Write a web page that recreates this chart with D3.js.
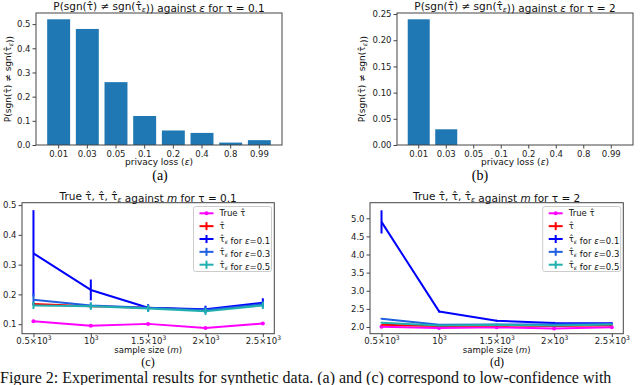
<!DOCTYPE html>
<html lang="en">
<head>
<meta charset="UTF-8">
<title>Figure 2</title>
<script src="https://cdn.jsdelivr.net/npm/d3@7/dist/d3.min.js"></script>
<style>
  body { margin: 0; background: #fff; }
  svg { display: block; font-family: 'DejaVu Sans', sans-serif; }
  .serif { font-family: 'Liberation Serif', 'DejaVu Serif', serif; }
</style>
</head>
<body>
<svg width="640" height="385" id="main"></svg>
<script>
// --- data ---
const epsCats = ['0.01', '0.03', '0.05', '0.1', '0.2', '0.4', '0.8', '0.99'];
const probLow = [0.52, 0.48, 0.26, 0.12, 0.06, 0.05, 0.01, 0.02];
const probHigh = [0.24, 0.03, 0, 0, 0, 0, 0, 0];

const sizes = [500, 1000, 1500, 2000, 2500];
const sizeMant = ['0.5', '', '1.5', '2', '2.5'];

// tau = 0.1
const trueLow = [0.110, 0.095, 0.101, 0.087, 0.102];
const hatLow = [0.168, 0.160, 0.155, 0.147, 0.165];
const hatLowErr = [0.005, 0.005, 0.005, 0.005, 0.005];
const e01Low = [0.338, 0.215, 0.155, 0.150, 0.172];
const e01LowErr = [0.145, 0.035, 0.012, 0.012, 0.015];
const e03Low = [0.182, 0.163, 0.155, 0.148, 0.167];
const e03LowErr = [0.02, 0.01, 0.01, 0.01, 0.01];
const e05Low = [0.163, 0.160, 0.153, 0.143, 0.163];
const e05LowErr = [0.012, 0.012, 0.012, 0.012, 0.012];

// tau = 2
const trueHigh = [2.01, 1.97, 1.99, 1.96, 1.99];
const hatHigh = [2.06, 2.03, 2.04, 2.03, 2.05];
const hatHighErr = [0.01, 0.01, 0.01, 0.01, 0.01];
const e01High = [4.90, 2.43, 2.17, 2.11, 2.10];
const e01HighErr = [0.32, 0.03, 0.03, 0.03, 0.03];
const e03High = [2.23, 2.06, 2.07, 2.07, 2.08];
const e03HighErr = [0.02, 0.02, 0.02, 0.02, 0.02];
const e05High = [2.12, 2.04, 2.06, 2.04, 2.07];
const e05HighErr = [0.02, 0.02, 0.02, 0.02, 0.02];

const svg = d3.select('#main');
const spine = '#444';

function tauHat(sel, sub) {
    sel.append('tspan').text('\u03C4\u0302');
    if (sub) sel.append('tspan').attr('font-size', '0.7em').attr('dy', 2).attr('font-style', 'italic').text('\u03B5');
    if (sub) sel.append('tspan').attr('dy', -2).text('');
}

function frame(g, x0, x1, y0, y1) {
    g.append('rect').attr('x', x0).attr('y', y0).attr('width', x1 - x0).attr('height', y1 - y0)
        .attr('fill', 'none').attr('stroke', spine).attr('stroke-width', 1);
}

function styleAxis(a) {
    a.select('.domain').remove();
    a.selectAll('.tick line').attr('stroke', spine);
    a.selectAll('.tick text').attr('font-size', 8.5).attr('fill', '#222')
        .attr('font-family', "'DejaVu Sans', sans-serif");
}

// ---------- bar panels ----------
function barPanel(vals, x0, x1, y0, y1, ymax, yticks, fmt, tau, ylOff, cx, cap) {
    const g = svg.append('g');
    const x = d3.scaleBand().domain(epsCats).range([x0, x1]).paddingInner(0.2).paddingOuter(0.39);
    const y = d3.scaleLinear().domain([0, ymax]).range([y1, y0]);

    g.selectAll('rect.bar').data(vals).join('rect').attr('class', 'bar')
        .attr('x', (d, i) => x(epsCats[i])).attr('width', x.bandwidth())
        .attr('y', d => y(d)).attr('height', d => y1 - y(d)).attr('fill', '#1f77b4');

    const ay = g.append('g').attr('transform', `translate(${x0},0)`)
        .call(d3.axisLeft(y).tickValues(yticks).tickFormat(d3.format(fmt)).tickSize(3.5).tickPadding(2));
    styleAxis(ay);
    const ax = g.append('g').attr('transform', `translate(0,${y1})`)
        .call(d3.axisBottom(x).tickSize(3.5).tickPadding(2));
    styleAxis(ax);
    frame(g, x0, x1, y0, y1);

    const t = g.append('text').attr('x', (x0 + x1) / 2).attr('y', y0 - 3).attr('text-anchor', 'middle')
        .attr('font-size', 10.5).attr('fill', '#111');
    t.append('tspan').text('P(sgn(');
    tauHat(t, false);
    t.append('tspan').text(') \u2260 sgn(');
    tauHat(t, true);
    t.append('tspan').text(')) against ');
    t.append('tspan').attr('font-style', 'italic').text('\u03B5');
    t.append('tspan').text(` for \u03C4 = ${tau}`);

    const yl = g.append('text').attr('transform', `translate(${x0 - ylOff},${(y0 + y1) / 2}) rotate(-90)`)
        .attr('text-anchor', 'middle').attr('font-size', 9).attr('fill', '#111');
    yl.append('tspan').text('P(sgn(');
    tauHat(yl, false);
    yl.append('tspan').text(') \u2260 sgn(');
    tauHat(yl, true);
    yl.append('tspan').text('))');

    const xl = g.append('text').attr('x', (x0 + x1) / 2).attr('y', y1 + 20).attr('text-anchor', 'middle')
        .attr('font-size', 9).attr('fill', '#111');
    xl.append('tspan').text('privacy loss (');
    xl.append('tspan').attr('font-style', 'italic').text('\u03B5');
    xl.append('tspan').text(')');

    svg.append('text').attr('class', 'serif').attr('x', cx).attr('y', y1 + 35).attr('text-anchor', 'middle')
        .attr('font-size', 14).text(cap);
}

barPanel(probLow, 36, 282, 13, 145, 0.546, d3.range(0, 0.51, 0.1), '.1f', '0.1', 25, 160, '(a)');
barPanel(probHigh, 397, 633, 13, 145, 0.252, d3.range(0, 0.251, 0.05), '.2f', '2', 32, 480, '(b)');

// ---------- line panels ----------
function linePanel(series, x0, x1, y0, y1, ydom, yticks, fmt, tau, legX, cap, capX) {
    const g = svg.append('g');
    const x = d3.scaleLinear().domain([400, 2600]).range([x0, x1]);
    const y = d3.scaleLinear().domain(ydom).range([y1, y0]);

    const ay = g.append('g').attr('transform', `translate(${x0},0)`)
        .call(d3.axisLeft(y).tickValues(yticks).tickFormat(d3.format(fmt)).tickSize(3.5).tickPadding(2));
    styleAxis(ay);
    const ax = g.append('g').attr('transform', `translate(0,${y1})`)
        .call(d3.axisBottom(x).tickValues(sizes).tickFormat('').tickSize(3.5));
    styleAxis(ax);
    ax.selectAll('.tick').each(function (d, i) {
        const tx = d3.select(this).select('text').attr('y', 10).attr('dy', null).attr('font-size', 8.5);
        tx.text(null);
        if (sizeMant[i]) tx.append('tspan').text(sizeMant[i] + '\u00D7');
        tx.append('tspan').text('10');
        tx.append('tspan').attr('font-size', 6).attr('dy', -4).text('3');
    });

    const line = d3.line().x((d, i) => x(sizes[i])).y(d => y(d));
    series.forEach(s => {
        g.append('path').datum(s.v).attr('d', line).attr('fill', 'none')
            .attr('stroke', s.c).attr('stroke-width', 2).attr('stroke-linejoin', 'round');
        if (s.e) {
            g.selectAll(null).data(s.v).join('line')
                .attr('x1', (d, i) => x(sizes[i])).attr('x2', (d, i) => x(sizes[i]))
                .attr('y1', (d, i) => y(d - s.e[i])).attr('y2', (d, i) => y(d + s.e[i]))
                .attr('stroke', s.c).attr('stroke-width', 2);
        } else {
            g.selectAll(null).data(s.v).join('circle')
                .attr('cx', (d, i) => x(sizes[i])).attr('cy', d => y(d)).attr('r', 2).attr('fill', s.c);
        }
    });
    frame(g, x0, x1, y0, y1);

    // legend
    const lg = g.append('g');
    lg.append('rect').attr('x', legX).attr('y', 206.5).attr('width', 78).attr('height', 65).attr('rx', 2)
        .attr('fill', 'white').attr('fill-opacity', 0.85).attr('stroke', '#ccc');
    series.forEach((s, i) => {
        const ly = 213.3 + i * 12.85;
        lg.append('line').attr('x1', legX + 6).attr('x2', legX + 20).attr('y1', ly).attr('y2', ly)
            .attr('stroke', s.c).attr('stroke-width', 2);
        if (s.e) {
            lg.append('line').attr('x1', legX + 13).attr('x2', legX + 13).attr('y1', ly - 4).attr('y2', ly + 4)
                .attr('stroke', s.c).attr('stroke-width', 2);
        } else {
            lg.append('circle').attr('cx', legX + 13).attr('cy', ly).attr('r', 2).attr('fill', s.c);
        }
        const t = lg.append('text').attr('x', legX + 26).attr('y', ly + 3).attr('font-size', 8.5).attr('fill', '#111');
        s.label(t);
    });

    const t = g.append('text').attr('x', (x0 + x1) / 2).attr('y', y0 - 3).attr('text-anchor', 'middle')
        .attr('font-size', 10.5).attr('fill', '#111');
    t.append('tspan').text('True ');
    tauHat(t, false);
    t.append('tspan').text(', ');
    tauHat(t, false);
    t.append('tspan').text(', ');
    tauHat(t, true);
    t.append('tspan').text(' against ');
    t.append('tspan').attr('font-style', 'italic').text('m');
    t.append('tspan').text(` for \u03C4 = ${tau}`);

    const xl = g.append('text').attr('x', (x0 + x1) / 2).attr('y', y1 + 19.6).attr('text-anchor', 'middle')
        .attr('font-size', 8.5).attr('fill', '#111');
    xl.append('tspan').text('sample size (');
    xl.append('tspan').attr('font-style', 'italic').text('m');
    xl.append('tspan').text(')');

    svg.append('text').attr('class', 'serif').attr('x', capX).attr('y', y1 + 32.6).attr('text-anchor', 'middle')
        .attr('font-size', 12).text(cap);
}

const colTrue = '#ff00ff', colHat = '#ff0000', col01 = '#0000ff', col03 = '#1f5fe0', col05 = '#20b0b0';
function epsLabel(v) {
    return t => {
        tauHat(t, true);
        t.append('tspan').text(' for ');
        t.append('tspan').attr('font-style', 'italic').text('\u03B5');
        t.append('tspan').text('=' + v);
    };
}
function mkSeries(tr, h, he, a, ae, b, be, c, ce) {
    return [
        {v: tr, c: colTrue, label: t => { t.append('tspan').text('True '); tauHat(t, false); }},
        {v: h, e: he, c: colHat, label: t => tauHat(t, false)},
        {v: a, e: ae, c: col01, label: epsLabel('0.1')},
        {v: b, e: be, c: col03, label: epsLabel('0.3')},
        {v: c, e: ce, c: col05, label: epsLabel('0.5')}
    ];
}

linePanel(mkSeries(trueLow, hatLow, hatLowErr, e01Low, e01LowErr, e03Low, e03LowErr, e05Low, e05LowErr),
    22, 274.3, 202.7, 333.7, [0.068, 0.508], [0.1, 0.2, 0.3, 0.4, 0.5], '.1f', '0.1', 193.5, '(c)', 148);
linePanel(mkSeries(trueHigh, hatHigh, hatHighErr, e01High, e01HighErr, e03High, e03HighErr, e05High, e05HighErr),
    370, 623.3, 202.7, 333.7, [1.815, 5.43], d3.range(2, 5.01, 0.5), '.1f', '2', 542.7, '(d)', 497);

// caption
svg.append('text').attr('class', 'serif').attr('x', 0).attr('y', 383.4).attr('font-size', 16).attr('fill', '#111')
    .text('Figure 2: Experimental results for synthetic data. (a) and (c) correspond to low-confidence with');
</script>
</body>
</html>
